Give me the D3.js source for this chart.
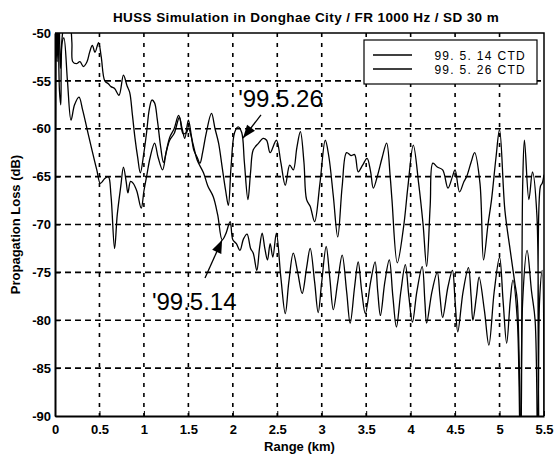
<!DOCTYPE html>
<html>
<head>
<meta charset="utf-8">
<script src="https://cdn.jsdelivr.net/npm/d3@7"></script>
<style>
  body { margin: 0; background: #fff; }
  svg { display: block; font-family: "Liberation Sans", Arial, sans-serif; }
</style>
</head>
<body>
<div id="chart"></div>
<script>
// range (km) and propagation loss (dB)
var r14 = [0, 0.012, 0.025, 0.035, 0.05, 0.065, 0.08, 0.1, 0.14, 0.18, 0.22, 0.27, 0.31, 0.36, 0.41, 0.47, 0.51, 0.56, 0.6, 0.63, 0.67, 0.7, 0.74, 0.77, 0.8, 0.82, 0.85, 0.88, 0.92, 0.97, 1.0, 1.03, 1.07, 1.12, 1.16, 1.21, 1.25, 1.29, 1.34, 1.4, 1.44, 1.48, 1.5, 1.55, 1.6, 1.67, 1.72, 1.78, 1.83, 1.88, 1.92, 1.97, 2.0, 2.04, 2.08, 2.12, 2.16, 2.2, 2.23, 2.27, 2.3, 2.33, 2.36, 2.39, 2.42, 2.45, 2.49, 2.54, 2.59, 2.63, 2.68, 2.73, 2.78, 2.83, 2.87, 2.92, 2.96, 3.0, 3.05, 3.09, 3.13, 3.18, 3.23, 3.28, 3.32, 3.37, 3.41, 3.45, 3.49, 3.55, 3.6, 3.63, 3.66, 3.71, 3.76, 3.8, 3.84, 3.89, 3.94, 3.98, 4.02, 4.07, 4.13, 4.16, 4.18, 4.24, 4.3, 4.33, 4.36, 4.42, 4.47, 4.5, 4.53, 4.59, 4.65, 4.68, 4.7, 4.74, 4.77, 4.83, 4.88, 4.94, 5.0, 5.04, 5.08, 5.12, 5.15, 5.2, 5.235, 5.26, 5.31, 5.36, 5.4, 5.43, 5.45, 5.48, 5.5];
var pl14 = [-95, -47, -53, -49, -56, -57.5, -51, -50.5, -55, -59.1, -57.5, -56.7, -58, -60, -62, -64.3, -65.7, -65.2, -65, -67, -72.5, -69, -66, -64, -65.5, -66.7, -65.5, -65.7, -66.5, -68.3, -66.5, -65, -63, -61.5, -63, -64.3, -62.5, -61.2, -60.5, -58.8, -60.5, -60.4, -59.9, -61.5, -63.3, -64.6, -66, -67.1, -69, -71.6, -71, -69.7, -71.6, -72, -72.7, -71.5, -71, -72.5, -73, -74.8, -72.5, -70.9, -72.5, -73.7, -72, -73.4, -70.9, -75.5, -79.3, -76, -73, -75, -77.2, -74.5, -72.5, -76, -79.2, -76, -72.3, -75.5, -78.9, -76, -73.2, -77, -80.3, -76.5, -73.9, -77, -79.3, -76, -73.9, -77, -79.5, -76, -73.7, -77.5, -80.7, -77, -74.2, -77.5, -80.2, -77, -74.4, -78, -80.3, -77, -75, -77.5, -79.7, -76.5, -74.8, -78, -81.2, -77, -74.5, -77.5, -80, -77.5, -75.5, -79, -82.6, -77, -73.4, -78, -82.4, -78, -75.8, -80, -95, -78, -72.7, -77, -80, -95, -78, -74.8, -92];

var r26 = [0, 0.015, 0.03, 0.045, 0.06, 0.08, 0.12, 0.17, 0.19, 0.2, 0.24, 0.28, 0.32, 0.36, 0.39, 0.42, 0.45, 0.49, 0.52, 0.56, 0.6, 0.63, 0.67, 0.72, 0.77, 0.81, 0.84, 0.87, 0.9, 0.93, 0.96, 1.0, 1.03, 1.06, 1.09, 1.12, 1.15, 1.19, 1.22, 1.26, 1.29, 1.34, 1.39, 1.43, 1.46, 1.5, 1.53, 1.56, 1.6, 1.63, 1.66, 1.7, 1.76, 1.8, 1.84, 1.88, 1.92, 1.95, 1.98, 2.02, 2.06, 2.1, 2.13, 2.17, 2.2, 2.23, 2.29, 2.34, 2.38, 2.42, 2.49, 2.54, 2.59, 2.64, 2.68, 2.72, 2.76, 2.8, 2.83, 2.87, 2.92, 2.98, 3.04, 3.08, 3.13, 3.18, 3.23, 3.28, 3.33, 3.37, 3.41, 3.46, 3.51, 3.55, 3.58, 3.63, 3.68, 3.73, 3.77, 3.79, 3.85, 3.92, 3.97, 4.03, 4.09, 4.14, 4.18, 4.22, 4.25, 4.3, 4.36, 4.42, 4.47, 4.5, 4.55, 4.6, 4.63, 4.68, 4.72, 4.78, 4.82, 4.87, 4.91, 4.96, 5.0, 5.06, 5.12, 5.17, 5.2, 5.24, 5.26, 5.28, 5.33, 5.37, 5.42, 5.44, 5.46, 5.48, 5.5];
var pl26 = [-95, -48, -51, -48, -53.7, -50.5, -48, -49, -51, -53, -53.2, -53, -53.5, -53, -52, -51.3, -52, -51, -52.5, -55, -55.3, -55.6, -55.8, -56.5, -54.4, -55.5, -56.2, -58.5, -61, -63, -64.6, -62.5, -60.4, -58, -57, -57.3, -59, -62, -63.5, -62, -60.9, -60, -58.6, -60, -61, -59.1, -60.5, -62.2, -63, -63.6, -62.5, -60.5, -58.4, -60, -61.5, -64, -66.5, -68, -64, -60.4, -59.8, -60.4, -63.5, -67.4, -64.5, -62.2, -61.5, -61, -61.2, -62.5, -61.2, -63.5, -65.9, -63.8, -64.3, -62, -60.3, -63.5, -67.4, -68.1, -69.7, -65.7, -61.2, -62.9, -67, -71.3, -66, -62.5, -62.8, -62.7, -64.5, -63.8, -63.1, -64.5, -66.2, -64.8, -63, -61.5, -65, -67.4, -74, -70.3, -66, -61.7, -65.7, -70, -74.4, -68, -63.6, -64, -64.3, -66.2, -65, -64.3, -66.6, -65.5, -65, -63.5, -62.5, -65.7, -73.7, -70, -67.4, -63, -60.1, -68.5, -72.7, -76, -78, -93, -66, -61.2, -67.4, -64.5, -69, -92, -66, -65.7, -64.8];

var seriesNames = ['99. 5. 14 CTD', '99. 5. 26 CTD'];
var xTicks = [0, 0.5, 1, 1.5, 2, 2.5, 3, 3.5, 4, 4.5, 5, 5.5];
var yTicks = [-50, -55, -60, -65, -70, -75, -80, -85, -90];

var W = 557, H = 456;
var margin = {left: 55, top: 33, right: 13, bottom: 40};

var svg = d3.select('#chart').append('svg')
  .attr('width', W)
  .attr('height', H);

var x = d3.scaleLinear().domain([0, 5.5]).range([margin.left, W - margin.right]);
var y = d3.scaleLinear().domain([-90, -50]).range([H - margin.bottom, margin.top]);

svg.append('clipPath').attr('id', 'plotclip')
  .append('rect')
  .attr('x', x(0)).attr('y', y(-50))
  .attr('width', x(5.5) - x(0)).attr('height', y(-90) - y(-50));

// grid
var grid = svg.append('g').attr('stroke', '#000').attr('stroke-width', 1.6);
grid.selectAll('.vg').data(xTicks.slice(1, -1)).enter().append('line')
  .attr('x1', function(d) { return x(d); }).attr('x2', function(d) { return x(d); })
  .attr('y1', y(-50)).attr('y2', y(-90))
  .attr('stroke-dasharray', '4,6');
grid.selectAll('.hg').data(yTicks.slice(1, -1)).enter().append('line')
  .attr('x1', x(0)).attr('x2', x(5.5))
  .attr('y1', function(d) { return y(d); }).attr('y2', function(d) { return y(d); })
  .attr('stroke-dasharray', '6,4');

// curves
var line = d3.line()
  .x(function(d) { return x(d[0]); })
  .y(function(d) { return y(d[1]); })
  .curve(d3.curveCatmullRom.alpha(0.5));
var curves = svg.append('g').attr('clip-path', 'url(#plotclip)');
[[r14, pl14], [r26, pl26]].forEach(function(s) {
  curves.append('path')
    .datum(d3.zip(s[0], s[1]))
    .attr('d', line)
    .attr('fill', 'none')
    .attr('stroke', '#000')
    .attr('stroke-width', 1.3)
    .attr('stroke-linejoin', 'round');
});

// axes
var xAxis = svg.append('g')
  .attr('transform', 'translate(0,' + y(-90) + ')')
  .call(d3.axisBottom(x).tickValues(xTicks).tickFormat(function(d) { return String(d); })
    .tickSizeInner(-5).tickSizeOuter(0).tickPadding(9));
var yAxis = svg.append('g')
  .attr('transform', 'translate(' + x(0) + ',0)')
  .call(d3.axisLeft(y).tickValues(yTicks).tickFormat(function(d) { return String(d); })
    .tickSizeInner(-5).tickSizeOuter(0).tickPadding(4));
[xAxis, yAxis].forEach(function(a) {
  a.select('.domain').attr('stroke', '#000').attr('stroke-width', 2);
  a.selectAll('.tick line').attr('stroke', '#000');
  a.selectAll('text').attr('fill', '#000').attr('font-size', '13px').attr('font-weight', 'bold')
    .attr('font-family', '"Liberation Sans", Arial, sans-serif');
});

// top and right border
svg.append('path')
  .attr('d', 'M' + x(0) + ',' + y(-50) + 'H' + x(5.5) + 'V' + y(-90))
  .attr('fill', 'none').attr('stroke', '#000').attr('stroke-width', 1.5);

// titles
svg.append('text')
  .attr('x', 306).attr('y', 22)
  .attr('text-anchor', 'middle')
  .attr('font-size', '13.5px').attr('font-weight', 'bold')
  .attr('letter-spacing', '0.4px')
  .text('HUSS Simulation in Donghae City / FR 1000 Hz / SD 30 m');
svg.append('text')
  .attr('x', (x(0) + x(5.5)) / 2).attr('y', 451)
  .attr('text-anchor', 'middle')
  .attr('font-size', '13px').attr('font-weight', 'bold')
  .text('Range (km)');
svg.append('text')
  .attr('transform', 'translate(20,' + (y(-70)) + ') rotate(-90)')
  .attr('text-anchor', 'middle')
  .attr('font-size', '13px').attr('font-weight', 'bold')
  .text('Propagation Loss (dB)');

// legend
var lg = svg.append('g').attr('transform', 'translate(364,40)');
lg.append('rect').attr('width', 173).attr('height', 44)
  .attr('fill', '#fff').attr('stroke', '#000').attr('stroke-width', 1.2);
seriesNames.forEach(function(n, i) {
  lg.append('line').attr('x1', 9).attr('x2', 48)
    .attr('y1', 15 + i * 14).attr('y2', 15 + i * 14)
    .attr('stroke', '#000').attr('stroke-width', 1.3);
  lg.append('text').attr('x', 162).attr('y', 19.5 + i * 14)
    .attr('text-anchor', 'end').attr('font-size', '12px')
    .attr('letter-spacing', '1.3px')
    .text(n);
});

// annotations with arrows
var notes = [
  {t: "'99.5.26", tx: 2.06, ty: -57.7, x0: 2.317, y0: -58.56, x1: 2.115, y1: -60.97},
  {t: "'99.5.14", tx: 1.09, ty: -78.9, x0: 1.687, y0: -75.59, x1: 1.879, y1: -71.62}
];
notes.forEach(function(n) {
  svg.append('text').attr('x', x(n.tx)).attr('y', y(n.ty))
    .attr('font-size', '24px').text(n.t);
  var ax = x(n.x0), ay = y(n.y0), bx = x(n.x1), by = y(n.y1);
  var ang = Math.atan2(by - ay, bx - ax);
  svg.append('line').attr('x1', ax).attr('y1', ay).attr('x2', bx).attr('y2', by)
    .attr('stroke', '#000').attr('stroke-width', 1.3);
  var L = 13, Wd = 5;
  var p = [
    [bx, by],
    [bx - L * Math.cos(ang) + Wd * Math.sin(ang), by - L * Math.sin(ang) - Wd * Math.cos(ang)],
    [bx - L * Math.cos(ang) - Wd * Math.sin(ang), by - L * Math.sin(ang) + Wd * Math.cos(ang)]
  ];
  svg.append('path').attr('d', 'M' + p.join('L') + 'Z').attr('fill', '#000');
});
</script>
</body>
</html>
